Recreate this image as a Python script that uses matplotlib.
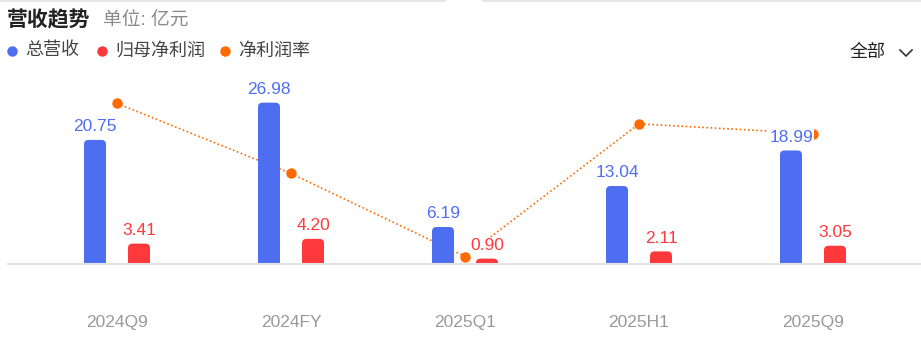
import matplotlib.pyplot as plt
import numpy as np
from matplotlib.lines import Line2D
from matplotlib.patches import FancyBboxPatch, Rectangle

plt.rcParams['font.family'] = ['Liberation Sans', 'Noto Sans CJK SC', 'DejaVu Sans']

# data
periods = ['2024Q9', '2024FY', '2025Q1', '2025H1', '2025Q9']
revenue = np.array([20.75, 26.98, 6.19, 13.04, 18.99])
net_profit = np.array([3.41, 4.20, 0.90, 2.11, 3.05])
margin = net_profit / revenue * 100

blue = '#4e6ef2'
red = '#ff383c'
orange = '#ff6a00'

W, H = 921, 343
fig = plt.figure(figsize=(W / 100, H / 100), dpi=100)

# axes: baseline at y=264px, spans x 8..920
ax = fig.add_axes([8 / W, (H - 264) / H, 912 / W, 204 / H])
x = np.arange(len(periods))
step = 174.0
ypx = 5.98
ax.set_xlim(-(117 - 8) / step, 4 + (920 - 813) / step)
ax.set_ylim(0, 204 / ypx)

bw = 22 / step
off = 22 / step
r_px = 4.5


def rounded_bar(xc, h, color):
    ry = min(r_px / ypx, h / 2)
    ax.add_patch(Rectangle((xc - bw / 2, 0), bw, h - ry, color=color, lw=0, zorder=2))
    ax.add_patch(FancyBboxPatch((xc - bw / 2, 0), bw, h,
                                boxstyle=f'round,pad=0,rounding_size={r_px / step}',
                                mutation_aspect=step / ypx, fc=color, ec='none', zorder=2))


for xi, v in zip(x, revenue):
    rounded_bar(xi - off, v, blue)
    ax.annotate(f'{v:.2f}', (xi - off, v), xytext=(0, 4), textcoords='offset points',
                ha='center', va='bottom', fontsize=12.5, color=blue, zorder=6,
                bbox=dict(boxstyle='square,pad=0.05', fc='white', ec='none'))
for xi, v in zip(x, net_profit):
    rounded_bar(xi + off, v, red)
    ax.annotate(f'{v:.2f}', (xi + off, v), xytext=(0, 4), textcoords='offset points',
                ha='center', va='bottom', fontsize=12.5, color=red, zorder=6,
                bbox=dict(boxstyle='square,pad=0.05', fc='white', ec='none'))

for s in ['top', 'right', 'left']:
    ax.spines[s].set_visible(False)
ax.spines['bottom'].set_color('#e3e3e3')
ax.spines['bottom'].set_linewidth(1.5)
ax.set_yticks([])
ax.set_xticks(x)
ax.set_xticklabels(periods, fontsize=12.5, color='#999999')
ax.tick_params(axis='x', length=0, pad=37)

# net margin on secondary axis
ax2 = ax.twinx()
ax2.set_ylim(14.447, 16.971)
ax2.plot(x, margin, color=orange, linestyle=(0, (1, 1.5)), linewidth=1.2,
         marker='o', markersize=6.5, zorder=3)
ax2.set_yticks([])
for s in ax2.spines.values():
    s.set_visible(False)
ax.set_zorder(ax2.get_zorder() + 1)
ax.patch.set_visible(False)

# header
fig.text(7 / W, 1 - 20 / H, '营收趋势', fontsize=15, fontweight='bold', color='#222222',
         va='center', ha='left')
fig.text(103 / W, 1 - 21 / H, '单位: 亿元', fontsize=13.5, color='#8a8a8a',
         va='center', ha='left')

legend_items = [(12, '总营收', blue), (102, '归母净利润', red), (225, '净利润率', orange)]
for lx, txt, col in legend_items:
    fig.add_artist(Line2D([lx / W], [1 - 51 / H], marker='o', markersize=6.5,
                          color=col, linestyle='none'))
    fig.text((lx + 13) / W, 1 - 51 / H, txt, fontsize=13, color='#444444',
             va='center', ha='left')

fig.text(850 / W, 1 - 53 / H, '全部', fontsize=13, color='#222222', va='center', ha='left')
fig.add_artist(Line2D([900 / W, 906 / W, 912 / W], [1 - 50 / H, 1 - 56 / H, 1 - 50 / H],
                      color='#333333', linewidth=1.2))

# top border with gap
fig.add_artist(Line2D([0, 445 / W], [1 - 1 / H, 1 - 1 / H], color='#e6e6e6', linewidth=1.5))
fig.add_artist(Line2D([483 / W, 1], [1 - 1 / H, 1 - 1 / H], color='#e6e6e6', linewidth=1.5))

fig.savefig('out.png', dpi=100)
